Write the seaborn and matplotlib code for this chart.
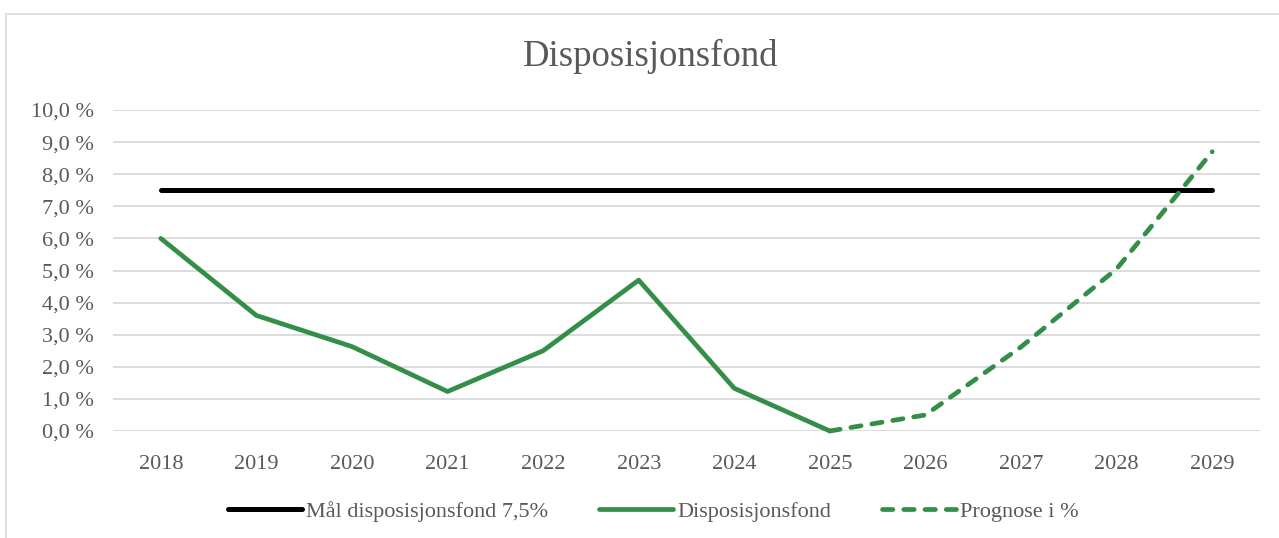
import numpy as np
import pandas as pd
import matplotlib as mpl
import matplotlib.pyplot as plt
import seaborn as sns
import matplotlib.patches as patches

# data (percent)
years = [2018, 2019, 2020, 2021, 2022, 2023, 2024, 2025, 2026, 2027, 2028, 2029]
target = [7.5] * 12
fond_years = [2018, 2019, 2020, 2021, 2022, 2023, 2024, 2025]
fond = [6.0, 3.6, 2.63, 1.23, 2.5, 4.7, 1.33, 0.0]
prog_years = [2025, 2026, 2027, 2028, 2029]
prognose = [0.0, 0.5, 2.62, 5.05, 8.7]

GREEN = '#338f47'
TEXT = '#595959'

sns.set_style("white")
plt.rcParams['font.family'] = ['Liberation Serif', 'DejaVu Serif']

fig = plt.figure(figsize=(12.79, 5.38), dpi=100)
ax = fig.add_axes([113/1279, 1 - 431/538, 1147/1279, 321/538])

sns.lineplot(x=years, y=target, color='black', linewidth=3.6, ax=ax,
             label='Mål disposisjonsfond 7,5%', solid_capstyle='round')
sns.lineplot(x=fond_years, y=fond, color=GREEN, linewidth=3.4, ax=ax,
             label='Disposisjonsfond', solid_capstyle='round')
sns.lineplot(x=prog_years, y=prognose, color=GREEN, linewidth=3.4, ax=ax,
             label='Prognose i %', dash_capstyle='round')
ax.lines[2].set_dashes((2.2, 2.3))
for ln in ax.lines:
    ln.set_clip_on(False)

ax.set_xlim(2017.5, 2029.5)
ax.set_ylim(0, 10)
ax.set_yticks(np.arange(0, 11, 1))
ax.set_yticklabels([('%.1f %%' % v).replace('.', ',') for v in np.arange(0, 11, 1)])
ax.set_xticks(years)
ax.set_xticklabels([str(y) for y in years])
ax.tick_params(axis='both', length=0, labelsize=16, labelcolor=TEXT)
ax.tick_params(axis='x', pad=17)
ax.tick_params(axis='y', pad=14)
ax.grid(axis='y', color='#d9d9d9', linewidth=1.3)
ax.set_axisbelow(True)
for s in ax.spines.values():
    s.set_visible(False)

fig.text(0.509, 1 - 56/538, 'Disposisjonsfond', ha='center', va='center',
         fontsize=26.5, color=TEXT)

leg = ax.legend(loc='center', bbox_to_anchor=(0.511, 0.05),
                bbox_transform=fig.transFigure, ncol=3, frameon=False,
                fontsize=16, handlelength=3.3, handletextpad=0.2,
                columnspacing=2.3, labelcolor=TEXT)

# outer chart border
fig.add_artist(patches.Rectangle((6/1279, -0.05), 1.1, 1 - 14/538 + 0.05,
                                 transform=fig.transFigure, fill=False,
                                 edgecolor='#d9d9d9', linewidth=1.2))

fig.savefig('out.png', dpi=100, facecolor='white')
